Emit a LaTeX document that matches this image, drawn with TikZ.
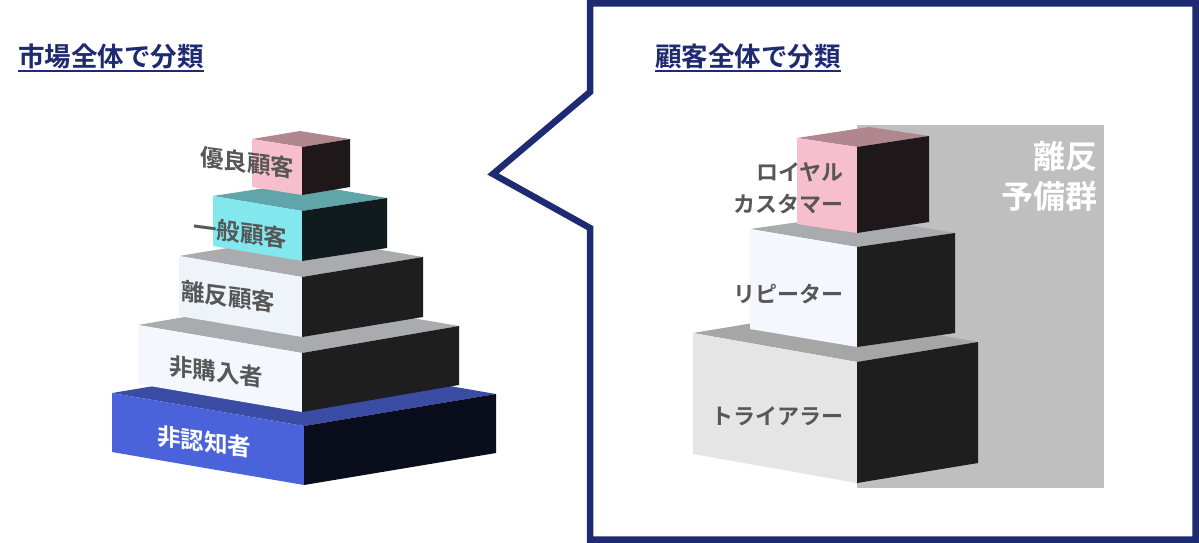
\documentclass[tikz,border=0pt]{standalone}
\usepackage{fontspec}
\newfontfamily\jp{Noto Sans CJK JP}[BoldFont={* Bold}]
\usetikzlibrary{calc}
\definecolor{navy}{HTML}{1F2B70}
\definecolor{lblgray}{HTML}{575757}
\definecolor{pinkF}{HTML}{F7BFCE}
\definecolor{pinkT}{HTML}{B0878F}
\definecolor{pinkR}{HTML}{1F181A}
\definecolor{cyanF}{HTML}{82E8EE}
\definecolor{cyanT}{HTML}{5FA5AA}
\definecolor{cyanR}{HTML}{111A1C}
\definecolor{paleF}{HTML}{EEF4FA}
\definecolor{paleF2}{HTML}{F4F7FD}
\definecolor{greyT}{HTML}{A9ABAF}
\definecolor{darkR}{HTML}{1E1E1E}
\definecolor{blueF}{HTML}{4A63DA}
\definecolor{blueT}{HTML}{3A4CA3}
\definecolor{blueR}{HTML}{0A0E1C}
\definecolor{lightF}{HTML}{E5E5E5}
\definecolor{lightT}{HTML}{A6A6A6}
\definecolor{reserve}{HTML}{BFBFBF}
\newcommand\drawblock[7]{%
  \coordinate (A) at #1; \coordinate (B) at #2; \coordinate (C) at #3;
  \fill[#6] (A) -- (B) -- (C) -- ($(A)+(C)-(B)$) -- cycle;
  \fill[#5] (A) -- (B) -- ($(B)+(0,#4)$) -- ($(A)+(0,#4)$) -- cycle;
  \fill[#7] (B) -- (C) -- ($(C)+(0,#4)$) -- ($(B)+(0,#4)$) -- cycle;}
\tikzset{
  titletext/.style={inner sep=0pt, anchor=west, text=navy, font=\jp\bfseries\fontsize{26.5}{28}\selectfont},
  lbl/.style={inner sep=0pt, text=lblgray, font=\jp\bfseries\fontsize{23.5}{26}\selectfont, transform shape},
  rlbl/.style={inner sep=0pt, anchor=east, align=right, text=lblgray, font=\jp\bfseries\fontsize{22}{32}\selectfont},
}
\begin{document}
\begin{tikzpicture}[x=1pt,y=-1pt]
\useasboundingbox (0,0) rectangle (1199,543);
\fill[white] (0,0) rectangle (1199,543);

% ---------- titles ----------
\node[titletext] (t1) at (18,56) {市場全体で分類};
\draw[navy, line width=2pt] ($(t1.south west)+(0,2)$) -- ($(t1.south east)+(0,2)$);
\node[titletext] (t2) at (655,56) {顧客全体で分類};
\draw[navy, line width=2pt] ($(t2.south west)+(0,2)$) -- ($(t2.south east)+(0,2)$);

% ---------- callout frame ----------
\coordinate (f1) at (590,3.5);
\coordinate (f2) at (1195.5,3.5);
\coordinate (f3) at (1195.5,539.5);
\coordinate (f4) at (590,539.5);
\coordinate (f5) at (590,228);
\coordinate (tip) at (493,174);
\coordinate (f6) at (590,92);
\draw[navy, line width=6.5pt, line join=miter] (f1) -- (f2) -- (f3) -- (f4) -- (f5) -- (tip) -- (f6) -- cycle;

% ---------- left pyramid ----------
\drawblock{(112,393)}{(304,426)}{(496,394)}{59}{blueF}{blueT}{blueR}
\drawblock{(138,325)}{(302,353)}{(459,326)}{59}{paleF2}{greyT}{darkR}
\drawblock{(179,256)}{(302,277)}{(423,257)}{60}{paleF}{greyT}{darkR}
\drawblock{(213,196)}{(302,211)}{(387,198)}{50}{cyanF}{cyanT}{cyanR}
\drawblock{(252,139)}{(302,147)}{(350,139)}{48}{pinkF}{pinkT}{pinkR}

\begin{scope}[shift={(247,163)}, yslant=-0.13]
  \node[lbl] (l1) at (0,0) {優良顧客};
\end{scope}
\begin{scope}[shift={(240,233)}, yslant=-0.13]
  \node[lbl] (l2) at (0,0) {一般顧客};
\end{scope}
\begin{scope}[shift={(228,297)}, yslant=-0.13]
  \node[lbl] (l3) at (0,0) {離反顧客};
\end{scope}
\begin{scope}[shift={(216,372)}, yslant=-0.13]
  \node[lbl] (l4) at (0,0) {非購入者};
\end{scope}
\begin{scope}[shift={(204,442)}, yslant=-0.13]
  \node[lbl, text=white] (l5) at (0,0) {非認知者};
\end{scope}

% ---------- right pyramid ----------
\fill[reserve] (857,125) rectangle (1104,488);
\node[inner sep=0pt, anchor=east, align=right, text=white,
      font=\jp\bfseries\fontsize{32}{40}\selectfont] (res) at (1098,176) {離反\\予備群};

\drawblock{(693,333)}{(857,362)}{(978,342)}{121}{lightF}{lightT}{darkR}
\drawblock{(750,229)}{(857,247)}{(955,233)}{100}{paleF2}{greyT}{darkR}
\drawblock{(797,138)}{(857,147)}{(929,136)}{86}{pinkF}{pinkT}{pinkR}

\node[rlbl] (r1) at (844,188) {ロイヤル\\カスタマー};
\node[rlbl] (r2) at (844,294) {リピーター};
\node[rlbl] (r3) at (844,416) {トライアラー};
\end{tikzpicture}
\end{document}
